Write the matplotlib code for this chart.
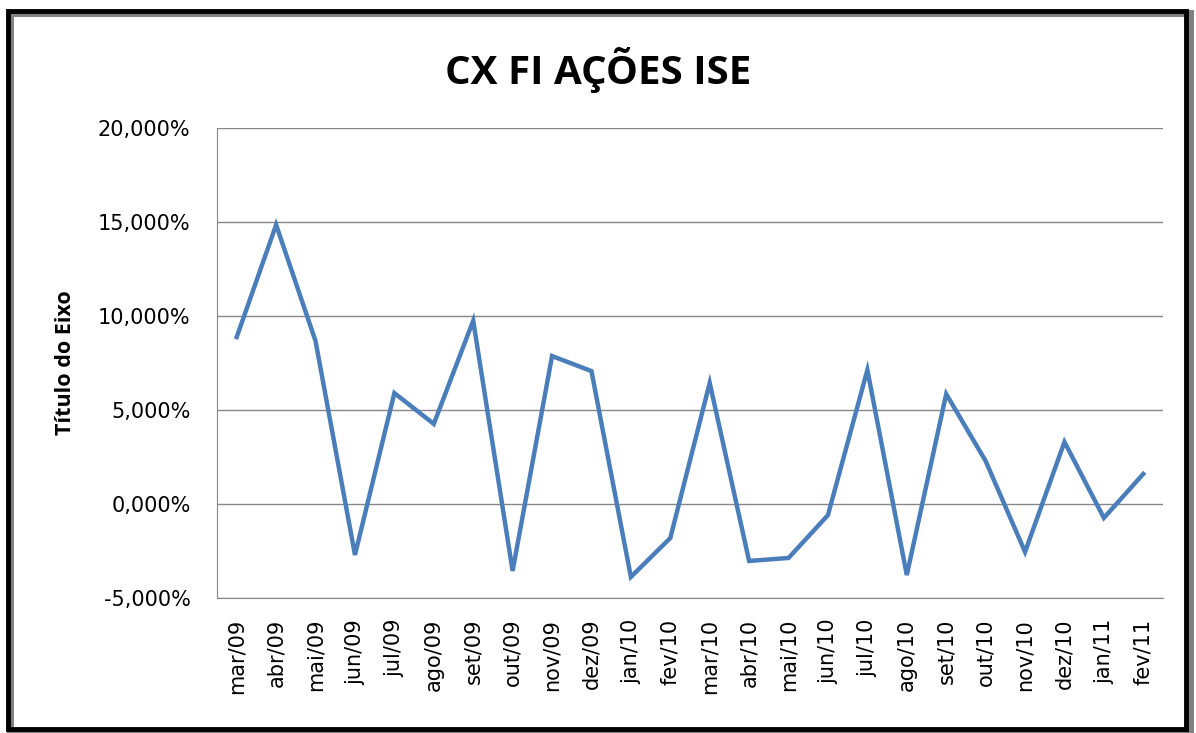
import matplotlib
matplotlib.use("Agg")
import matplotlib.pyplot as plt
from matplotlib.patches import Rectangle
from matplotlib.ticker import FuncFormatter, MultipleLocator

categories = ["mar/09", "abr/09", "mai/09", "jun/09", "jul/09", "ago/09", "set/09",
              "out/09", "nov/09", "dez/09", "jan/10", "fev/10", "mar/10", "abr/10",
              "mai/10", "jun/10", "jul/10", "ago/10", "set/10", "out/10", "nov/10",
              "dez/10", "jan/11", "fev/11"]
values = [8.88, 14.85, 8.67, -2.71, 5.90, 4.26, 9.75, -3.56, 7.87, 7.07, -3.88, -1.81,
          6.44, -3.03, -2.87, -0.59, 7.13, -3.78, 5.85, 2.29, -2.55, 3.30, -0.74, 1.60]
title = "CX FI AÇÕES ISE"
ylabel = "Título do Eixo"

plt.rcParams['font.family'] = ['DejaVu Sans']

fig = plt.figure(figsize=(11.96, 7.33), dpi=100)
ax = fig.add_axes([217/1196, 1 - 598/733, 946/1196, 470/733])

x = list(range(len(categories)))
ax.plot(x, values, color="#4A7EBB", lw=3.2, solid_joinstyle="miter")

ax.set_xlim(-0.5, len(categories) - 0.5)
ax.set_ylim(-5, 20)
ax.yaxis.set_major_locator(MultipleLocator(5))
ax.yaxis.set_major_formatter(FuncFormatter(lambda v, p: f"{v:.3f}%".replace(".", ",")))
ax.set_xticks(x)
ax.set_xticklabels(categories, rotation=90, fontsize=15)
ax.tick_params(axis="y", labelsize=15, length=0, pad=19)
ax.tick_params(axis="x", length=0, pad=15)
ax.grid(axis="y", color="#868686", lw=1)
ax.set_axisbelow(True)
for s in ["top", "right"]:
    ax.spines[s].set_visible(False)
ax.spines["left"].set_color("#868686")
ax.spines["bottom"].set_color("#868686")
ax.set_ylabel(ylabel, fontsize=15.5, fontweight="bold", labelpad=16,
              family=["Open Sans", "DejaVu Sans"])

fig.text(0.5, 1 - 70/733, title, ha="center", va="center", fontsize=29, fontweight="bold",
         family=["Open Sans", "DejaVu Sans"])

# Frame with shadow
fig.patches.append(Rectangle((10/1196, 1 - 731/733), 1180/1196, 718/733, transform=fig.transFigure,
                             fill=False, edgecolor="#808080", lw=5))
fig.patches.append(Rectangle((8/1196, 1 - 729/733), 1178/1196, 718/733, transform=fig.transFigure,
                             fill=False, edgecolor="black", lw=3.5))

fig.savefig("out.png", dpi=100)
